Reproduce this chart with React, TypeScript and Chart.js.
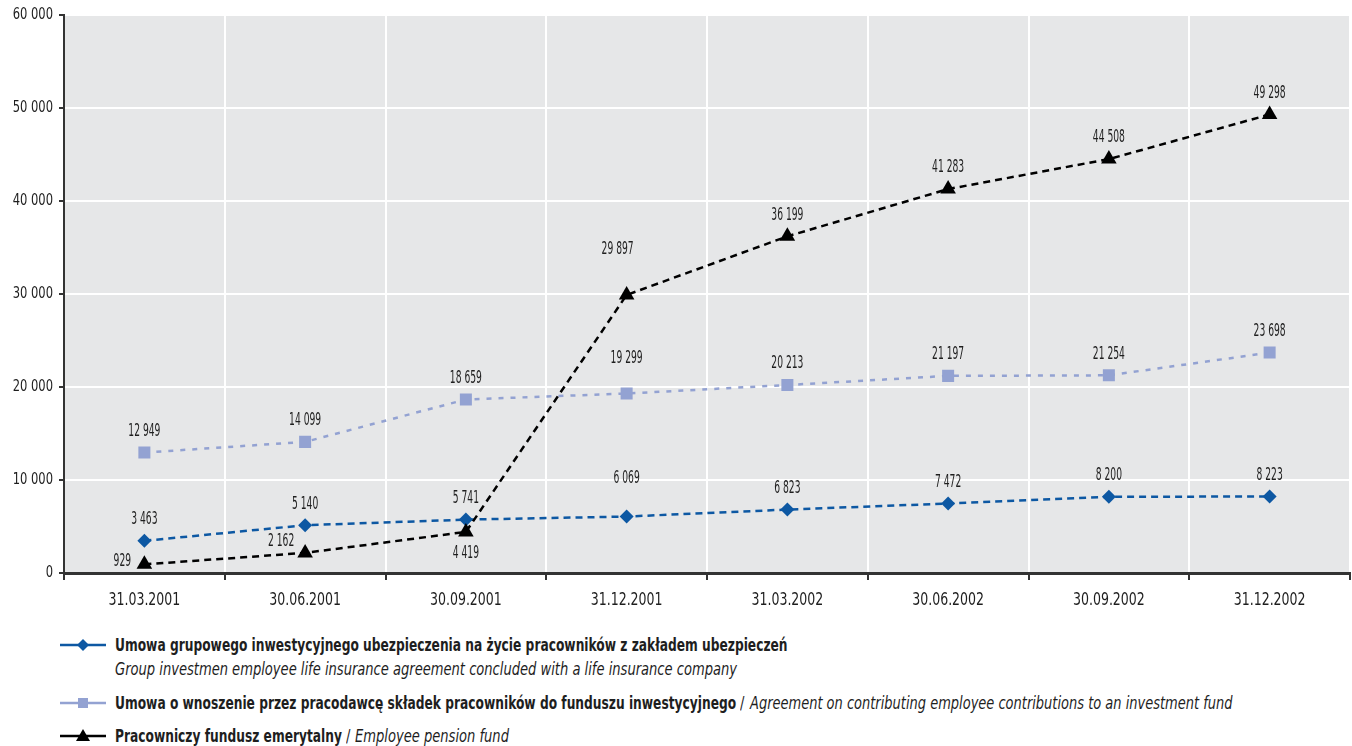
import React, { useEffect, useRef } from "react";
import { Chart, registerables } from "chart.js";

Chart.register(...registerables);

const categories = [
  "31.03.2001",
  "30.06.2001",
  "30.09.2001",
  "31.12.2001",
  "31.03.2002",
  "30.06.2002",
  "30.09.2002",
  "31.12.2002",
];

const groupInsurance = [3463, 5140, 5741, 6069, 6823, 7472, 8200, 8223];
const investmentFund = [12949, 14099, 18659, 19299, 20213, 21197, 21254, 23698];
const pensionFund = [929, 2162, 4419, 29897, 36199, 41283, 44508, 49298];

const yTicks = [0, 10000, 20000, 30000, 40000, 50000, 60000];

const legendBold = [
  "Umowa grupowego inwestycyjnego ubezpieczenia na życie pracowników z zakładem ubezpieczeń",
  "Umowa o wnoszenie przez pracodawcę składek pracowników do funduszu inwestycyjnego",
  "Pracowniczy fundusz emerytalny",
];
const legendItalic = [
  "Group investmen employee life insurance agreement concluded with a life insurance company",
  "Agreement on contributing employee contributions to an investment fund",
  "Employee pension fund",
];

const FONT = "'DejaVu Sans Condensed', 'Liberation Sans Narrow', sans-serif";
const BLUE = "#0d58a3";
const LIGHT = "#93a2d2";
const BLACK = "#000000";
const BG = "#e6e7e8";
const TEXT = "#1e1e1e";

// label offsets (styling): [dx, dy] relative to point, per dataset
const labelOffsets: Record<number, Record<number, [number, number]>> = {
  0: { 3: [0, -38] },
  1: { 3: [0, -35] },
  2: { 0: [-22, -3], 1: [-24, -11], 2: [0, 22], 3: [-9, -45] },
};

const fmt = (v: number) => String(v).replace(/\B(?=(\d{3})+(?!\d))/g, " ");

function drawCondensed(ctx: any, text: string, x: number, y: number, size: number, sx: number, align: string) {
  ctx.save();
  ctx.translate(x, y);
  ctx.scale(sx, 1);
  ctx.font = `${size}px ${FONT}`;
  ctx.fillStyle = TEXT;
  ctx.textAlign = align;
  ctx.textBaseline = "middle";
  ctx.fillText(text, 0, 0);
  ctx.restore();
}

const bgPlugin = {
  id: "bgPlugin",
  beforeDraw(chart: any) {
    const { ctx, chartArea } = chart;
    ctx.save();
    ctx.fillStyle = BG;
    ctx.fillRect(chartArea.left, chartArea.top, chartArea.right - chartArea.left, chartArea.bottom - chartArea.top);
    ctx.restore();
  },
};

const textPlugin = {
  id: "textPlugin",
  afterDraw(chart: any) {
    const { ctx, scales } = chart;
    categories.forEach((c, i) => {
      drawCondensed(ctx, c, scales.x.getPixelForValue(i), 601, 17, 0.82, "center");
    });
    yTicks.forEach((v) => {
      drawCondensed(ctx, fmt(v), 53, scales.y.getPixelForValue(v), 16, 0.8, "right");
    });
  },
  afterDatasetsDraw(chart: any) {
    const { ctx } = chart;
    chart.data.datasets.forEach((ds: any, di: number) => {
      const meta = chart.getDatasetMeta(di);
      meta.data.forEach((pt: any, i: number) => {
        const off = (labelOffsets[di] && labelOffsets[di][i]) || [0, -21];
        drawCondensed(ctx, fmt(ds.data[i]), pt.x + off[0], pt.y + off[1], 17, 0.6, "center");
      });
    });
  },
};

function LegendMarker({ kind, color }: { kind: string; color: string }) {
  let marker: any = null;
  if (kind === "diamond") marker = <polygon points="23,2 29,8 23,14 17,8" fill={color} />;
  if (kind === "square") marker = <rect x={18} y={3} width={10} height={10} fill={color} />;
  if (kind === "triangle") marker = <polygon points="23,1 30,13 16,13" fill={color} />;
  return (
    <svg width={46} height={16} style={{ position: "absolute", left: 60, top: -8 }}>
      <line x1={0} y1={8} x2={46} y2={8} stroke={color} strokeWidth={2.5} />
      {marker}
    </svg>
  );
}

const piece = (left: number, top: number, sx: number, bold: boolean, italic: boolean): any => ({
  position: "absolute",
  left,
  top,
  whiteSpace: "nowrap",
  fontSize: 17,
  lineHeight: "22px",
  fontWeight: bold ? "bold" : "normal",
  fontStyle: italic ? "italic" : "normal",
  transform: `scaleX(${sx})`,
  transformOrigin: "0 0",
});

export default function App() {
  const ref = useRef<HTMLCanvasElement>(null);
  useEffect(() => {
    if (!ref.current) return;
    const chart = new Chart(ref.current, {
      type: "line",
      data: {
        labels: categories,
        datasets: [
          {
            label: legendBold[0],
            data: groupInsurance,
            borderColor: BLUE,
            backgroundColor: BLUE,
            borderWidth: 2.5,
            borderDash: [7, 5],
            pointStyle: "rectRot",
            pointRadius: 7,
            pointBorderWidth: 0,
            order: 3,
          },
          {
            label: legendBold[1],
            data: investmentFund,
            borderColor: LIGHT,
            backgroundColor: LIGHT,
            borderWidth: 2.5,
            borderDash: [5, 7],
            pointStyle: "rect",
            pointRadius: 8.5,
            pointBorderWidth: 0,
            order: 2,
          },
          {
            label: legendBold[2],
            data: pensionFund,
            borderColor: BLACK,
            backgroundColor: BLACK,
            borderWidth: 2.5,
            borderDash: [7, 5],
            pointStyle: "triangle",
            pointRadius: 9,
            pointBorderWidth: 0,
            order: 1,
          },
        ],
      },
      options: {
        animation: false,
        responsive: false,
        devicePixelRatio: 1,
        layout: { autoPadding: false, padding: { top: 15, right: 2, left: 0, bottom: 0 } },
        plugins: { legend: { display: false }, tooltip: { enabled: false } },
        scales: {
          x: {
            type: "category",
            offset: true,
            grid: { offset: true, color: "#ffffff", lineWidth: 2, tickColor: "#333", tickLength: 7 },
            border: { color: "#333", width: 3 },
            ticks: { display: false },
            afterFit(scale: any) {
              scale.height = 47;
            },
          },
          y: {
            min: 0,
            max: 60000,
            afterBuildTicks(scale: any) {
              scale.ticks = yTicks.map((v) => ({ value: v }));
            },
            grid: { color: "#ffffff", lineWidth: 2, tickColor: "#333", tickLength: 5 },
            border: { color: "#333", width: 2 },
            ticks: { display: false },
            afterFit(scale: any) {
              scale.width = 64;
            },
          },
        },
      },
      plugins: [bgPlugin, textPlugin],
    });
    return () => chart.destroy();
  }, []);

  const kinds = ["diamond", "square", "triangle"];
  const colors = [BLUE, LIGHT, BLACK];

  return (
    <div style={{ position: "absolute", left: 0, top: 0, width: 1352, height: 746, background: "#fff", fontFamily: FONT, color: TEXT }}>
      <canvas ref={ref} width={1352} height={620} style={{ position: "absolute", left: 0, top: 0 }} />
      <div style={{ position: "absolute", left: 0, top: 645 }}>
        <LegendMarker kind={kinds[0]} color={colors[0]} />
        <div style={piece(115, -11, 0.8, true, false)}>{legendBold[0]}</div>
        <div style={piece(115, 13, 0.855, false, true)}>{legendItalic[0]}</div>
      </div>
      <div style={{ position: "absolute", left: 0, top: 703 }}>
        <LegendMarker kind={kinds[1]} color={colors[1]} />
        <div style={piece(115, -11, 0.8, true, false)}>{legendBold[1]}</div>
        <div style={piece(740, -11, 0.855, false, false)}>/</div>
        <div style={piece(750, -11, 0.85, false, true)}>{legendItalic[1]}</div>
      </div>
      <div style={{ position: "absolute", left: 0, top: 736 }}>
        <LegendMarker kind={kinds[2]} color={colors[2]} />
        <div style={piece(115, -11, 0.8, true, false)}>{legendBold[2]}</div>
        <div style={piece(346, -11, 0.855, false, false)}>/</div>
        <div style={piece(355, -11, 0.855, false, true)}>{legendItalic[2]}</div>
      </div>
    </div>
  );
}
